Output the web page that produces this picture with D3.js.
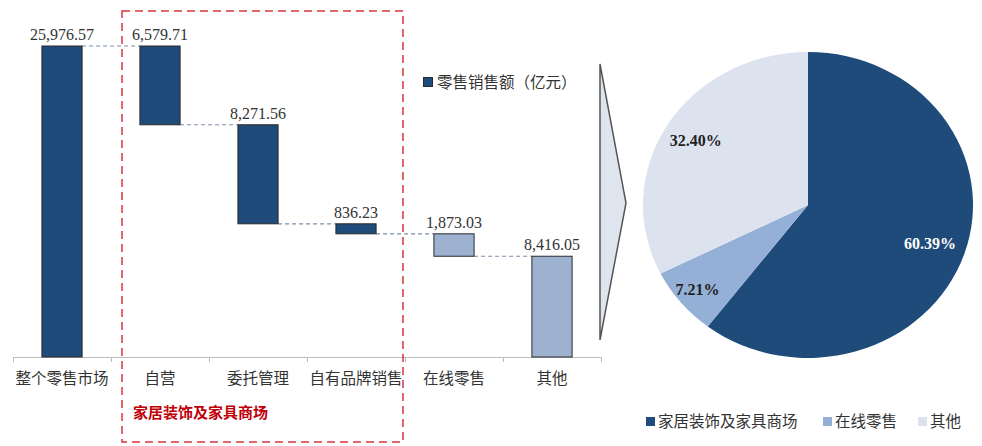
<!DOCTYPE html>
<html>
<head>
<meta charset="utf-8">
<script src="https://cdn.jsdelivr.net/npm/d3@7"></script>
<style>
  body { margin: 0; background: #fff; }
  svg text { font-family: "Noto Sans CJK SC", sans-serif; }
  .num { font-family: "Liberation Serif", "DejaVu Serif", serif; }
</style>
</head>
<body>
<svg id="chart" width="982" height="446"></svg>
<script>
// waterfall data
const categories = ['整个零售市场', '自营', '委托管理', '自有品牌销售', '在线零售', '其他']
const values = [25976.57, 6579.71, 8271.56, 836.23, 1873.03, 8416.05]
const barGroup = ['dark', 'dark', 'dark', 'dark', 'light', 'light']
const valueLabels = ['25,976.57', '6,579.71', '8,271.56', '836.23', '1,873.03', '8,416.05']
const legendLabel = '零售销售额（亿元）'
const groupLabel = '家居装饰及家具商场'

// pie data
const pieNames = ['家居装饰及家具商场', '在线零售', '其他']
const pieValues = [60.39, 7.21, 32.40]
const pieLabels = ['60.39%', '7.21%', '32.40%']

const colors = { dark: '#1f4b7a', light: '#9db1d1' }
const pieColors = ['#1f4b7a', '#95b0d6', '#dce3ef']
const pieLabelColors = ['#fff', '#222', '#222']
const pieLabelR = [0.78, 0.87, 0.8]

const svg = d3.select('#chart')

// ---- waterfall ----
const x = d3.scaleBand()
    .domain(categories)
    .range([13, 601])
    .paddingInner(0.59)
    .paddingOuter(0.295)

const y = d3.scaleLinear()
    .domain([0, values[0]])
    .range([357, 46])

// compute floating bar extents
let running = values[0]
const bars = categories.map((c, i) => {
    if (i === 0) return { cat: c, lo: 0, hi: values[0], i }
    const hi = running
    running -= values[i]
    return { cat: c, lo: Math.max(running, 0), hi: hi, i }
})

// axis
const xAxis = d3.axisBottom(x).tickSize(0).tickFormat('')
svg.append('line')
    .attr('x1', 13).attr('x2', 601)
    .attr('y1', y(0) + 0.5).attr('y2', y(0) + 0.5)
    .attr('stroke', '#bcbcbc').attr('stroke-width', 1)
const tickXs = categories.map(c => x(c) - x.step() * x.paddingInner() / 2)
tickXs.push(601)
tickXs[0] = 13
svg.selectAll('.tick-mark')
    .data(tickXs)
    .enter()
    .append('line')
    .attr('class', 'tick-mark')
    .attr('x1', d => d + 0.5).attr('x2', d => d + 0.5)
    .attr('y1', y(0)).attr('y2', y(0) + 5)
    .attr('stroke', '#bcbcbc')

svg.selectAll('.xlabel')
    .data(categories)
    .enter()
    .append('text')
    .attr('class', 'xlabel')
    .attr('x', d => x(d) + x.bandwidth() / 2)
    .attr('y', 384)
    .attr('text-anchor', 'middle')
    .attr('font-size', '15.5px')
    .attr('fill', '#333')
    .text(d => d)

// dashed connectors
const connectors = bars.slice(0, -1).map((b, i) => ({
    x1: x(b.cat) + x.bandwidth(),
    x2: x(bars[i + 1].cat),
    v: i === 0 ? b.hi : b.lo
}))
svg.selectAll('.conn')
    .data(connectors)
    .enter()
    .append('line')
    .attr('class', 'conn')
    .attr('x1', d => d.x1).attr('x2', d => d.x2)
    .attr('y1', d => y(d.v)).attr('y2', d => y(d.v))
    .attr('stroke', '#7d8fa6')
    .attr('stroke-width', 1.2)
    .attr('stroke-dasharray', '4,3')

svg.selectAll('.bar')
    .data(bars)
    .enter()
    .append('rect')
    .attr('class', 'bar')
    .attr('x', d => x(d.cat))
    .attr('width', x.bandwidth())
    .attr('y', d => y(d.hi))
    .attr('height', d => y(d.lo) - y(d.hi))
    .attr('fill', d => colors[barGroup[d.i]])
    .attr('stroke', '#2a2a2a')
    .attr('stroke-width', 1)

svg.selectAll('.vlabel')
    .data(bars)
    .enter()
    .append('text')
    .attr('class', 'vlabel num')
    .attr('x', d => x(d.cat) + x.bandwidth() / 2)
    .attr('y', d => y(d.hi) - 6)
    .attr('text-anchor', 'middle')
    .attr('font-size', '16px')
    .attr('fill', '#333')
    .text(d => valueLabels[d.i])

// red dashed group box
svg.append('rect')
    .attr('x', 122).attr('y', 11)
    .attr('width', 281).attr('height', 431)
    .attr('fill', 'none')
    .attr('stroke', '#d9363e')
    .attr('stroke-width', 1.5)
    .attr('stroke-dasharray', '8,5')
svg.append('text')
    .attr('x', 133).attr('y', 418)
    .attr('font-size', '15px')
    .attr('font-weight', 'bold')
    .attr('fill', '#c0000a')
    .text(groupLabel)

// legend
svg.append('rect')
    .attr('x', 423.5).attr('y', 77.5)
    .attr('width', 9).attr('height', 9)
    .attr('fill', colors.dark)
    .attr('stroke', '#2a2a2a')
svg.append('text')
    .attr('x', 437).attr('y', 88)
    .attr('font-size', '15.5px')
    .attr('fill', '#333')
    .text(legendLabel)

// arrow
svg.append('polygon')
    .attr('points', '600,64 626,203 600,340')
    .attr('fill', '#dfe5ef')
    .attr('stroke', '#555')
    .attr('stroke-width', 1.5)

// ---- pie ----
const cx = 808, cy = 205, rx = 165, ry = 153
const pie = d3.pie().sort(null).value(d => d)
const arcs = pie(pieValues)
const arc = d3.arc().innerRadius(0).outerRadius(rx)

const pg = svg.append('g')
    .attr('transform', `translate(${cx},${cy}) scale(1,${ry / rx})`)
pg.selectAll('path')
    .data(arcs)
    .enter()
    .append('path')
    .attr('d', arc)
    .attr('fill', (d, i) => pieColors[i])

svg.selectAll('.plabel')
    .data(arcs)
    .enter()
    .append('text')
    .attr('class', 'plabel num')
    .attr('transform', (d, i) => {
        const r = rx * pieLabelR[i]
        const c = d3.arc().innerRadius(r).outerRadius(r).centroid(d)
        return `translate(${cx + c[0]},${cy + c[1] * ry / rx})`
    })
    .attr('text-anchor', 'middle')
    .attr('dy', '0.35em')
    .attr('font-size', '16px')
    .attr('font-weight', 'bold')
    .attr('fill', (d, i) => pieLabelColors[i])
    .text((d, i) => pieLabels[i])

// pie legend
const legX = [646, 823, 918]
const lg = svg.selectAll('.pleg')
    .data(pieNames)
    .enter()
    .append('g')
    .attr('class', 'pleg')
    .attr('transform', (d, i) => `translate(${legX[i]},417)`)
lg.append('rect')
    .attr('width', 9).attr('height', 9)
    .attr('fill', (d, i) => pieColors[i])
lg.append('text')
    .attr('x', 12).attr('y', 10)
    .attr('font-size', '15.5px')
    .attr('fill', '#333')
    .text(d => d)
</script>
</body>
</html>
